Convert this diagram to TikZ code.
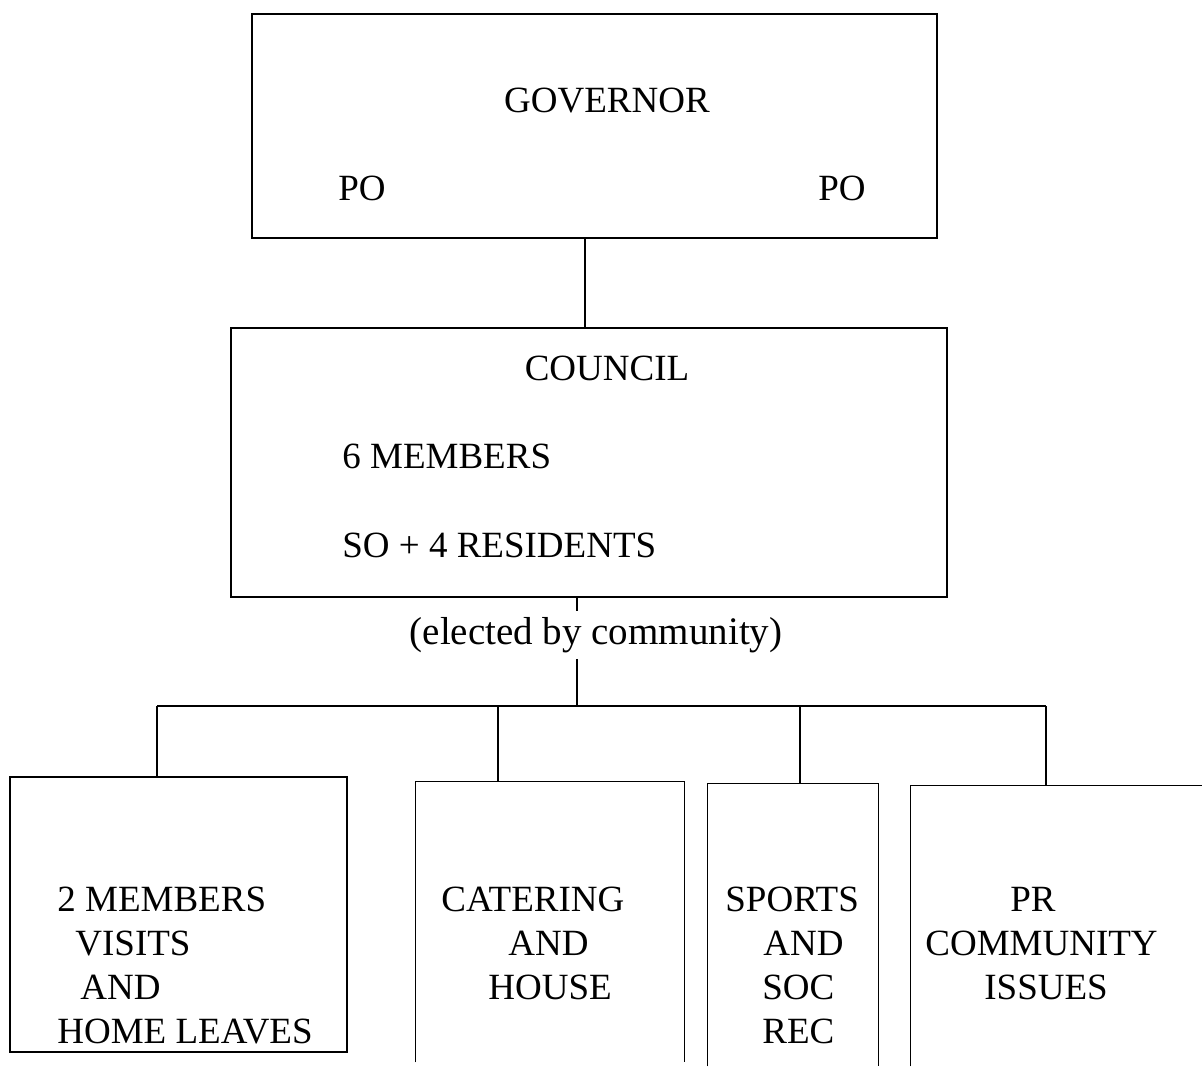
\documentclass[tikz,border=0pt]{standalone}
\usepackage{fontspec}
\setmainfont{Liberation Serif}

\begin{document}
\begin{tikzpicture}[x=0.5pt,y=-0.5pt]
\tikzset{
unit/.style={rectangle, inner sep=0pt},
boxed/.style={unit, draw=black, line width=0.7pt},
mylabel/.style={font=\fontsize{18.5}{22}\selectfont, inner sep=0pt},
mylist/.style={mylabel, align=left, anchor=base west},
link/.style={line width=0.7pt},
}
\useasboundingbox (0,0) rectangle (1202,1066);

% boxes
\node [boxed, minimum width=342.5pt, minimum height=112pt] (governor) at (594.5,126) {};
\node [boxed, minimum width=358pt, minimum height=134.5pt] (council) at (589,462.5) {};
\node [boxed, minimum width=168.5pt, minimum height=137.5pt] (visitbox) at (178.5,914.5) {};
\node [unit, minimum width=134pt, minimum height=140pt] (cateringbox) at (550,922) {};
\node [unit, minimum width=85pt, minimum height=141pt] (sportsbox) at (793,925) {};
\node [unit, minimum width=159.5pt, minimum height=140pt] (prbox) at (1070.5,926) {};

% texts
\node [mylabel, anchor=base] (govtext) at (607,112) {GOVERNOR};
\node [mylabel, anchor=base west] (poleft) at (338,200) {PO};
\node [mylabel, anchor=base west] (poright) at (818,200) {PO};
\node [mylabel, anchor=base] (counciltext) at (607,380) {COUNCIL};
\node [mylabel, anchor=base west] (members) at (342,468) {6 MEMBERS};
\node [mylabel, anchor=base west] (residents) at (342,557) {SO + 4 RESIDENTS};
\node [mylabel, font=\fontsize{19.5}{22}\selectfont, anchor=base, inner sep=3pt] (elected) at (596,644) {(elected by community)};

% lists (base = last line)
\node [mylist] (visits) at (57,1043) {2 MEMBERS\\\hspace*{9pt}VISITS\\\hspace*{11.5pt}AND\\HOME LEAVES};
\node [mylist] (catering) at (441,999) {CATERING\\\hspace*{33.5pt}AND\\\hspace*{23.5pt}HOUSE};
\node [mylist] (sports) at (725,1043) {SPORTS\\\hspace*{19pt}AND\\\hspace*{18.5pt}SOC\\\hspace*{18.5pt}REC};
\node [mylist] (pr) at (925,999) {\hspace*{42.5pt}PR\\COMMUNITY\\\hspace*{29.5pt}ISSUES};

% open boxes
\draw[link] (cateringbox.south west) -- (cateringbox.north west) -- (cateringbox.north east) -- (cateringbox.south east);
\draw[link] (sportsbox.south west) -- (sportsbox.north west) -- (sportsbox.north east) -- (sportsbox.south east);
\draw[link] (prbox.south west) -- (prbox.north west) -- (prbox.north east);

% connectors
\coordinate (topjoin) at (585,283);
\coordinate (hub) at (577,706);
\coordinate (drop1) at (157,706);
\coordinate (drop2) at (498,706);
\coordinate (drop3) at (800,706);
\coordinate (drop4) at (1046,706);
\draw[link] (governor.south -| topjoin) -- (council.north -| topjoin);
\draw[link] (council.south -| hub) -- (elected.north -| hub);
\draw[link] (elected.south -| hub) -- (hub);
\draw[link] (drop1) -- (drop4);
\foreach \d/\b in {drop1/visitbox,drop2/cateringbox,drop3/sportsbox,drop4/prbox}
  \draw[link] (\d) -- (\d |- \b.north);
\end{tikzpicture}
\end{document}
